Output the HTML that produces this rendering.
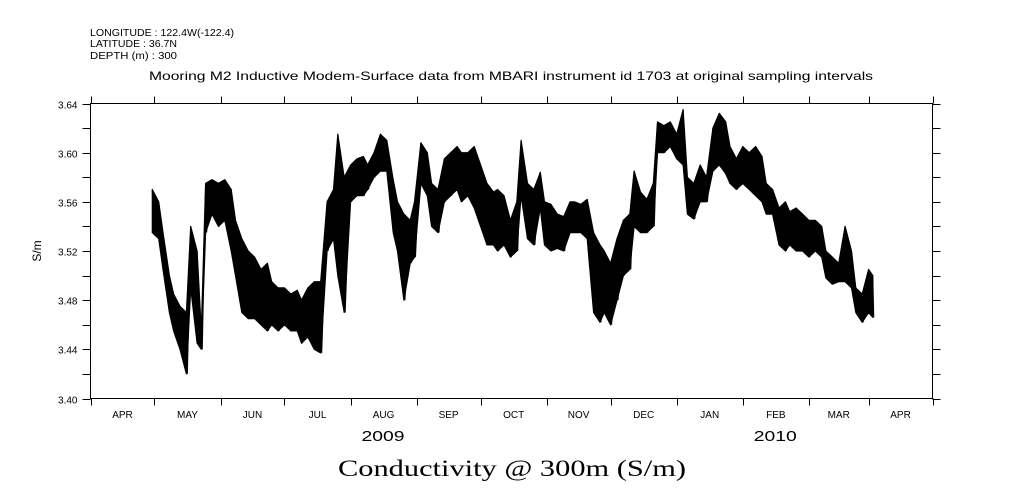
<!DOCTYPE html>
<html><head><meta charset="utf-8"><style>
html,body{margin:0;padding:0;background:#fff;}
svg{display:block;font-family:"Liberation Sans",sans-serif;}
</style></head><body>
<svg id="chart" width="1009" height="504" viewBox="0 0 1009 504" xmlns="http://www.w3.org/2000/svg">
<g font-size="10" fill="#000">
<text x="90" y="36" textLength="144" lengthAdjust="spacingAndGlyphs">LONGITUDE : 122.4W(-122.4)</text>
<text x="90" y="47" textLength="87" lengthAdjust="spacingAndGlyphs">LATITUDE : 36.7N</text>
<text x="90" y="59" textLength="87" lengthAdjust="spacingAndGlyphs">DEPTH (m) : 300</text>
</g>
<text x="149" y="80" textLength="724" lengthAdjust="spacingAndGlyphs" font-size="12">Mooring M2 Inductive Modem-Surface data from MBARI instrument id 1703 at original sampling intervals</text>
<text transform="translate(41,251) rotate(-90)" text-anchor="middle" font-size="12">S/m</text>
<text x="338" y="476" textLength="348" lengthAdjust="spacingAndGlyphs" font-size="23" font-family="Liberation Serif, serif">Conductivity @ 300m (S/m)</text>
<g id="axes"></g>
<g id="series"></g>
</svg>
<script>
const days=[29,32,34,37,39,42,45,47,50,52,54,57,60,63,66,68,71,74,77,80,83,85,88,91,94,97,99,102,105,108,111,114,116,119,122,125,128,130,133,136,139,142,144,147,150,152,155,158,160,163,166,169,172,174,177,180,183,186,189,191,194,197,200,202,205,208,211,213,216,219,222,225,227,230,233,236,239,241,244,247,250,253,255,258,261,264,266,269,272,275,278,280,283,286,289,292,295,298,300,303,306,309,312,315,317,320,323,326,328,331,334,337,340,343,345,348,351,354,357,359,362,365,367];
const hiVals=[3.570,3.560,3.535,3.500,3.485,3.475,3.470,3.540,3.520,3.455,3.575,3.578,3.575,3.578,3.570,3.545,3.530,3.520,3.515,3.505,3.510,3.495,3.490,3.490,3.485,3.488,3.480,3.490,3.495,3.495,3.560,3.570,3.615,3.580,3.590,3.595,3.597,3.590,3.600,3.615,3.610,3.578,3.560,3.550,3.545,3.560,3.608,3.600,3.575,3.570,3.595,3.600,3.605,3.600,3.600,3.605,3.590,3.575,3.568,3.570,3.565,3.545,3.560,3.610,3.575,3.570,3.584,3.560,3.558,3.550,3.548,3.560,3.560,3.558,3.562,3.535,3.525,3.520,3.510,3.530,3.545,3.550,3.585,3.568,3.562,3.575,3.625,3.622,3.625,3.615,3.635,3.580,3.575,3.590,3.580,3.620,3.632,3.625,3.605,3.595,3.605,3.600,3.605,3.597,3.575,3.570,3.555,3.560,3.552,3.555,3.550,3.545,3.545,3.540,3.520,3.515,3.510,3.540,3.520,3.490,3.485,3.505,3.500];
const loVals=[3.535,3.530,3.505,3.470,3.455,3.440,3.420,3.490,3.445,3.440,3.535,3.550,3.540,3.545,3.520,3.500,3.470,3.465,3.465,3.460,3.455,3.460,3.455,3.460,3.455,3.455,3.445,3.450,3.440,3.437,3.520,3.530,3.500,3.470,3.560,3.565,3.565,3.570,3.580,3.585,3.585,3.535,3.520,3.480,3.510,3.515,3.575,3.565,3.540,3.535,3.560,3.565,3.570,3.560,3.565,3.555,3.540,3.525,3.525,3.520,3.525,3.515,3.520,3.565,3.530,3.525,3.555,3.525,3.520,3.522,3.520,3.535,3.535,3.535,3.530,3.470,3.462,3.470,3.460,3.480,3.500,3.505,3.540,3.535,3.535,3.540,3.600,3.600,3.605,3.595,3.590,3.550,3.546,3.560,3.560,3.585,3.590,3.583,3.575,3.570,3.575,3.570,3.565,3.560,3.550,3.550,3.525,3.520,3.525,3.520,3.520,3.515,3.520,3.515,3.498,3.493,3.495,3.495,3.490,3.470,3.462,3.470,3.466];
const monthLabels=["APR","MAY","JUN","JUL","AUG","SEP","OCT","NOV","DEC","JAN","FEB","MAR","APR"];
const monthStarts=[0,30,61,91,122,153,183,214,244,275,306,337,365,395];
const yTicks=[3.40,3.42,3.44,3.46,3.48,3.50,3.52,3.54,3.56,3.58,3.60,3.62,3.64];
const yearLabels=["2009","2010"];
const yearCenters=[137,321];

const L=90.5,R=932.5,T=103.5,B=398.5,D0=0,D1=395,V0=3.40,V1=3.64;
const xs=d=>L+(d-D0)/(D1-D0)*(R-L);
const ys=v=>B-(v-V0)/(V1-V0)*(B-T);
const NS="http://www.w3.org/2000/svg";
const axes=document.getElementById('axes');
function mk(tag,attrs,parent){const e=document.createElementNS(NS,tag);for(const k in attrs)e.setAttribute(k,attrs[k]);parent.appendChild(e);return e;}
const frame=mk('rect',{x:L,y:T,width:R-L,height:B-T,fill:'none',stroke:'#000','stroke-width':1},axes);


yTicks.forEach((v,i)=>{
  const y=Math.round(ys(v))+0.5;
  const major=i%2===0;
  const tl=mk('line',{x1:L-8,x2:L,y1:y,y2:y,stroke:'#000'},axes);
  
  
  const tr=mk('line',{x1:R,x2:R+8,y1:y,y2:y,stroke:'#000'},axes);
  
  
  if(major){
    const t=mk('text',{x:L-13,y:y+4,'text-anchor':'end','font-size':10},axes);
    t.textContent=v.toFixed(2);
    
    
  }
});
monthStarts.forEach((d,i)=>{
  const x=Math.round(xs(d))+0.5;
  const tb=mk('line',{x1:x,x2:x,y1:B,y2:B+7,stroke:'#000'},axes);
  
  
  const tt=mk('line',{x1:x,x2:x,y1:T-7,y2:T,stroke:'#000'},axes);
  
  
  if(i<monthLabels.length){
    const t=mk('text',{x:xs((d+monthStarts[i+1])/2),y:418,'text-anchor':'middle','font-size':10},axes);
    t.textContent=monthLabels[i];
    
    
  }
});
yearLabels.forEach((s,i)=>{
  const t=mk('text',{x:xs(yearCenters[i])-21,y:441,'font-size':15,textLength:43,lengthAdjust:'spacingAndGlyphs'},axes);
  t.textContent=s;
  
  
});
const series=document.getElementById('series');
let dstr='';
days.forEach((d,i)=>{dstr+=(i?'L':'M')+xs(d).toFixed(1)+','+ys(hiVals[i]).toFixed(1);});
for(let i=days.length-1;i>=0;i--){dstr+='L'+xs(days[i]).toFixed(1)+','+ys(loVals[i]).toFixed(1);}
dstr+='Z';
const band=mk('path',{d:dstr,fill:'#000',stroke:'#000','stroke-width':1.2,'stroke-linejoin':'round'},series);


let zz='';
days.forEach((d,i)=>{zz+=(i?'L':'M')+xs(d).toFixed(1)+','+ys(hiVals[i]).toFixed(1)+'L'+(xs(d)+1).toFixed(1)+','+ys(loVals[i]).toFixed(1);});
const spikes=mk('path',{d:zz,fill:'none',stroke:'#000','stroke-width':1},series);


</script>
</body></html>
